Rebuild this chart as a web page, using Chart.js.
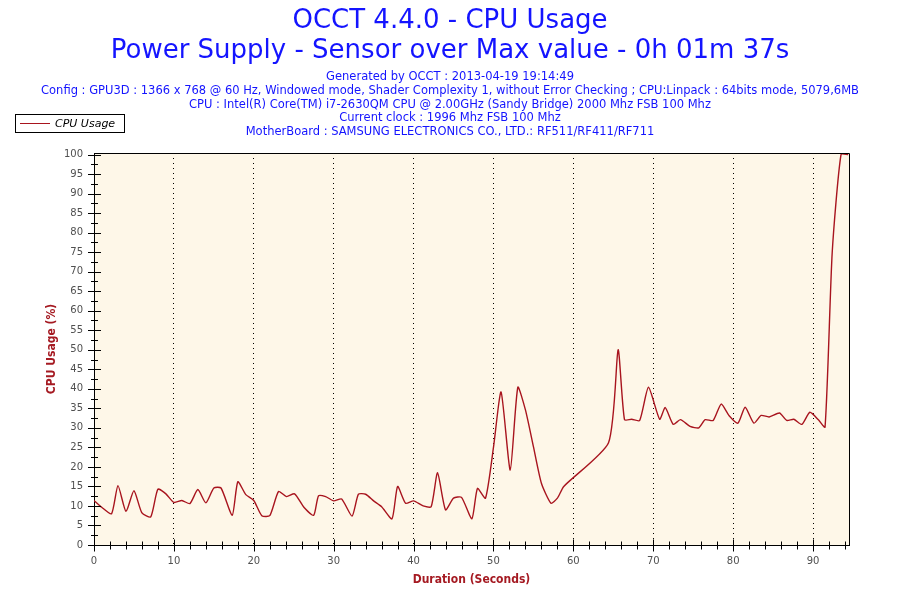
<!DOCTYPE html>
<html><head><meta charset="utf-8">
<script src="https://cdn.jsdelivr.net/npm/chart.js@4.4.0/dist/chart.umd.min.js"></script>
<style>html,body{margin:0;padding:0;background:#fff}#wrap{width:900px;height:600px}</style>
</head><body><div id="wrap"><canvas id="c" width="900" height="600"></canvas></div>
<script>
const titleLines = ['OCCT 4.4.0 - CPU Usage', 'Power Supply - Sensor over Max value - 0h 01m 37s'];
const infoLines = [
  'Generated by OCCT : 2013-04-19 19:14:49',
  'Config : GPU3D : 1366 x 768 @ 60 Hz, Windowed mode, Shader Complexity 1, without Error Checking ; CPU:Linpack : 64bits mode, 5079,6MB',
  'CPU : Intel(R) Core(TM) i7-2630QM CPU @ 2.00GHz (Sandy Bridge) 2000 Mhz FSB 100 Mhz',
  'Current clock : 1996 Mhz FSB 100 Mhz',
  'MotherBoard : SAMSUNG ELECTRONICS CO., LTD.: RF511/RF411/RF711'
];
const seriesName = 'CPU Usage';
const xAxisTitle = 'Duration (Seconds)';
const yAxisTitle = 'CPU Usage (%)';

const durationSeconds = [
  0, 1, 2.2, 3, 4, 5, 6, 7.1, 8, 9,
  10, 11, 12, 13, 14, 15, 15.9, 17.3, 18, 19,
  20, 21, 22, 23.1, 24.1, 25.1, 26.3, 27.5, 28.1, 29,
  30, 31, 32.3, 33.1, 34, 35, 36, 37.3, 38, 39,
  40, 41.2, 42.2, 43, 44, 45, 46, 47.3, 48, 49,
  50, 50.95, 52.1, 53.05, 54, 55, 56, 57.2, 58, 58.8,
  64.4, 65.6, 66.4, 67.3, 68.3, 69.4, 70.8, 71.5, 72.5, 73.4,
  74.6, 75.7, 76.5, 77.5, 78.5, 79.5, 80.6, 81.5, 82.6, 83.5,
  84.5, 85.8, 86.7, 87.6, 88.6, 89.6, 90.7, 91.5, 92.4, 93.5,
  94.4
];
const cpuUsage = [
  11.4, 9.6, 8.0, 15.2, 8.6, 13.9, 8.2, 7.2, 14.3, 13.1,
  10.9, 11.4, 10.6, 14.2, 10.8, 14.6, 14.6, 7.6, 16.2, 12.9,
  11.4, 7.5, 7.5, 13.7, 12.4, 13.1, 9.6, 7.6, 12.6, 12.4,
  11.3, 11.8, 7.4, 13.0, 13.0, 11.3, 9.8, 6.7, 15.0, 10.7,
  11.3, 10.0, 9.8, 18.5, 9.0, 12.0, 12.2, 6.7, 14.5, 12.0,
  25.0, 39.2, 19.2, 40.4, 34.6, 25.2, 15.8, 10.7, 12.0, 15.0,
  26.2, 50.0, 32.1, 32.2, 31.9, 40.4, 32.2, 35.2, 30.9, 32.1,
  30.4, 30.0, 32.1, 31.9, 36.1, 33.1, 31.2, 35.3, 31.2, 33.2,
  32.8, 33.8, 31.9, 32.2, 30.9, 34.0, 32.0, 30.2, 75.0, 100,
  100
];
const xMax = 94.5;
const yMax = 100.4;

const blue = '#1414FF';
const lineRed = '#A8141E';
const axisRed = '#A51A22';

const points = durationSeconds.map((x, i) => ({x: x, y: cpuUsage[i]}));

const decor = {
  id: 'decor',
  beforeDraw(chart) {
    const {ctx, chartArea: a} = chart;
    ctx.save();
    ctx.fillStyle = '#FEF7E8';
    ctx.fillRect(a.left, a.top, a.right - a.left, a.bottom - a.top);
    ctx.restore();
  },
  afterDraw(chart) {
    const {ctx, chartArea: a} = chart;
    const xs = chart.scales.x, ys = chart.scales.y;
    ctx.save();
    ctx.strokeStyle = '#000';
    ctx.lineWidth = 1;
    ctx.beginPath();
    ctx.moveTo(Math.round(a.left) + 0.5, Math.round(a.top) + 0.5);
    ctx.lineTo(Math.round(a.right) + 0.5, Math.round(a.top) + 0.5);
    ctx.lineTo(Math.round(a.right) + 0.5, Math.round(a.bottom) + 0.5);
    ctx.stroke();
    const ax = Math.round(a.left) + 0.5;
    ctx.beginPath();
    for (let v = 0; v <= 100.001; v += 2.5) {
      const py = Math.round(ys.getPixelForValue(v)) + 0.5;
      const major = Math.abs(v / 5 - Math.round(v / 5)) < 1e-6;
      const half = major ? 6.5 : 3.5;
      ctx.moveTo(ax - half, py); ctx.lineTo(ax + half, py);
    }
    const ay = Math.round(a.bottom) + 0.5;
    for (let v = 0; v <= 94.001; v += 2) {
      const px = Math.round(xs.getPixelForValue(v)) + 0.5;
      const major = v % 10 === 0;
      const half = major ? 6 : 4;
      ctx.moveTo(px, ay - half); ctx.lineTo(px, ay + half);
    }
    ctx.stroke();
    ctx.fillStyle = blue;
    ctx.textAlign = 'center';
    ctx.textBaseline = 'middle';
    ctx.font = '26px "DejaVu Sans"';
    ctx.fillText(titleLines[0], 450, 21);
    ctx.fillText(titleLines[1], 450, 51);
    ctx.font = '11.5px "DejaVu Sans"';
    infoLines.forEach((t, i) => ctx.fillText(t, 450, 77 + i * 13.8));
    ctx.fillStyle = '#fff';
    ctx.fillRect(15.5, 114.5, 109, 18);
    ctx.strokeStyle = '#000';
    ctx.strokeRect(15.5, 114.5, 109, 18);
    ctx.strokeStyle = lineRed;
    ctx.beginPath();
    ctx.moveTo(20, 123.5); ctx.lineTo(50, 123.5);
    ctx.stroke();
    ctx.fillStyle = '#000';
    ctx.textAlign = 'left';
    ctx.font = 'italic 11px "DejaVu Sans"';
    ctx.fillText(chart.data.datasets[0].label, 55, 124);
    ctx.restore();
  }
};

new Chart(document.getElementById('c'), {
  type: 'line',
  data: {
    datasets: [{
      label: seriesName,
      data: points,
      borderColor: lineRed,
      borderWidth: 1.4,
      pointRadius: 0,
      tension: 0.2,
      fill: false
    }]
  },
  options: {
    responsive: false,
    devicePixelRatio: 1,
    animation: false,
    layout: {padding: {left: 0, top: 153, right: 51, bottom: 0}},
    plugins: {legend: {display: false}, title: {display: false}, tooltip: {enabled: false}},
    scales: {
      x: {
        type: 'linear', min: 0, max: xMax,
        afterFit(s) { s.height = 55; },
        ticks: {stepSize: 10, includeBounds: false, color: '#505050', padding: 10,
                font: {family: 'DejaVu Sans', size: 10}, maxRotation: 0},
        grid: {drawTicks: false, lineWidth: 1,
               color: c => (c.tick && c.tick.value === 0) ? 'rgba(0,0,0,0)' : '#000'},
        border: {display: true, color: '#000', width: 1, dash: [1, 4]},
        title: {display: true, text: xAxisTitle, color: axisRed,
                font: {family: 'DejaVu Sans Condensed', size: 12, weight: 'bold'},
                padding: {top: 0, bottom: 13}}
      },
      y: {
        min: 0, max: yMax,
        afterFit(s) { s.width = 94; },
        ticks: {stepSize: 5, includeBounds: false, color: '#505050', padding: 11,
                font: {family: 'DejaVu Sans', size: 10}},
        grid: {drawTicks: false, drawOnChartArea: false},
        border: {display: true, color: '#000', width: 1},
        title: {display: true, text: yAxisTitle, color: axisRed,
                font: {family: 'DejaVu Sans Condensed', size: 12, weight: 'bold'},
                padding: {top: 45, bottom: 0}}
      }
    }
  },
  plugins: [decor]
});
</script></body></html>
